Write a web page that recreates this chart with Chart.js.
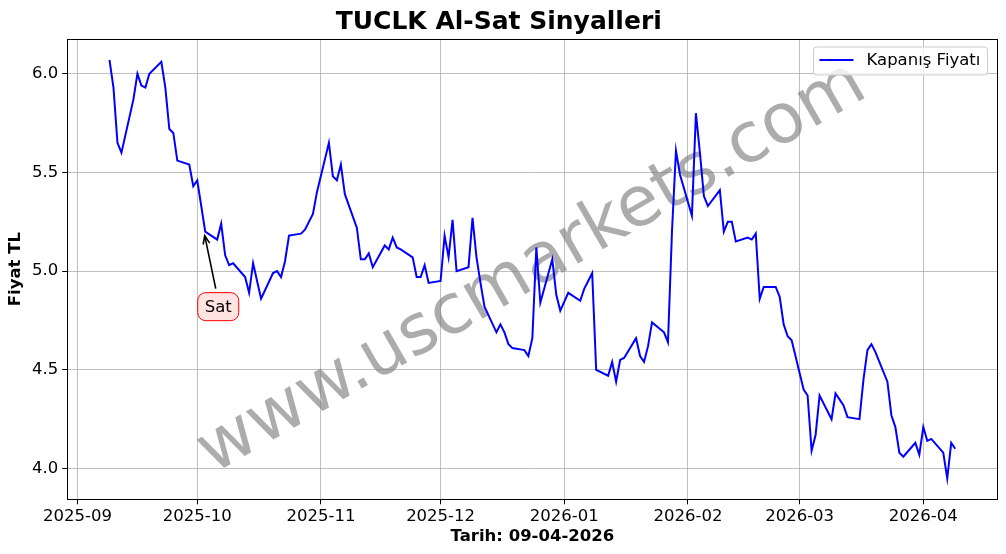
<!DOCTYPE html>
<html>
<head>
<meta charset="utf-8">
<title>TUCLK Al-Sat Sinyalleri</title>
<script src="https://cdn.jsdelivr.net/npm/chart.js@4.4.1/dist/chart.umd.min.js"></script>
<style>
    html, body { margin: 0; padding: 0; background: #fff; }
    #wrap { width: 1006px; height: 554px; }
</style>
</head>
<body>
<div id="wrap"><canvas id="lineChart" width="1006" height="554"></canvas></div>
<script>
// trading days (Sep 9 2025 .. Apr 9 2026)
var dates = [
    '2025-09-09', '2025-09-10', '2025-09-11', '2025-09-12', '2025-09-15', '2025-09-16', '2025-09-17', '2025-09-18',
    '2025-09-19', '2025-09-22', '2025-09-23', '2025-09-24', '2025-09-25', '2025-09-26', '2025-09-29', '2025-09-30',
    '2025-10-01', '2025-10-02', '2025-10-03', '2025-10-06', '2025-10-07', '2025-10-08', '2025-10-09', '2025-10-10',
    '2025-10-13', '2025-10-14', '2025-10-15', '2025-10-16', '2025-10-17', '2025-10-20', '2025-10-21', '2025-10-22',
    '2025-10-23', '2025-10-24', '2025-10-27', '2025-10-28', '2025-10-30', '2025-10-31',
    '2025-11-03', '2025-11-04', '2025-11-05', '2025-11-06', '2025-11-07', '2025-11-10', '2025-11-11', '2025-11-12',
    '2025-11-13', '2025-11-14', '2025-11-17', '2025-11-18', '2025-11-19', '2025-11-20', '2025-11-21', '2025-11-24',
    '2025-11-25', '2025-11-26', '2025-11-27', '2025-11-28',
    '2025-12-01', '2025-12-02', '2025-12-03', '2025-12-04', '2025-12-05', '2025-12-08', '2025-12-09', '2025-12-10',
    '2025-12-11', '2025-12-12', '2025-12-15', '2025-12-16', '2025-12-17', '2025-12-18', '2025-12-19', '2025-12-22',
    '2025-12-23', '2025-12-24', '2025-12-25', '2025-12-26', '2025-12-29', '2025-12-30', '2025-12-31',
    '2026-01-02', '2026-01-05', '2026-01-06', '2026-01-07', '2026-01-08', '2026-01-09', '2026-01-12', '2026-01-13',
    '2026-01-14', '2026-01-15', '2026-01-16', '2026-01-19', '2026-01-20', '2026-01-21', '2026-01-22', '2026-01-23',
    '2026-01-26', '2026-01-27', '2026-01-28', '2026-01-29', '2026-01-30',
    '2026-02-02', '2026-02-03', '2026-02-04', '2026-02-05', '2026-02-06', '2026-02-09', '2026-02-10', '2026-02-11',
    '2026-02-12', '2026-02-13', '2026-02-16', '2026-02-17', '2026-02-18', '2026-02-19', '2026-02-20', '2026-02-23',
    '2026-02-24', '2026-02-25', '2026-02-26', '2026-02-27',
    '2026-03-02', '2026-03-03', '2026-03-04', '2026-03-05', '2026-03-06', '2026-03-09', '2026-03-10', '2026-03-11',
    '2026-03-12', '2026-03-13', '2026-03-16', '2026-03-17', '2026-03-18', '2026-03-19', '2026-03-20', '2026-03-23',
    '2026-03-24', '2026-03-25', '2026-03-26', '2026-03-27', '2026-03-30', '2026-03-31',
    '2026-04-01', '2026-04-02', '2026-04-03', '2026-04-06', '2026-04-07', '2026-04-08', '2026-04-09'
]

// closing prices (TL), same order as dates
var closePrices = [
    6.07, 5.93, 5.65, 5.60, 5.87, 6.00, 5.94, 5.93,
    6.00, 6.06, 5.93, 5.72, 5.70, 5.56, 5.54, 5.43,
    5.46, 5.33, 5.20, 5.16, 5.24, 5.08, 5.03, 5.04,
    4.97, 4.89, 5.04, 4.95, 4.86, 4.99, 5.00, 4.97,
    5.05, 5.18, 5.19, 5.21, 5.29, 5.40,
    5.65, 5.48, 5.46, 5.54, 5.39, 5.22, 5.06, 5.06,
    5.09, 5.02, 5.13, 5.11, 5.17, 5.12, 5.11, 5.07,
    4.97, 4.97, 5.03, 4.94,
    4.95, 5.18, 5.07, 5.26, 5.00, 5.02, 5.27, 5.07,
    4.94, 4.82, 4.69, 4.73, 4.69, 4.63, 4.61, 4.60,
    4.57, 4.66, 5.12, 4.84, 5.06, 4.88, 4.80,
    4.89, 4.85, 4.91, 4.95, 4.99, 4.50, 4.47, 4.54,
    4.44, 4.55, 4.56, 4.66, 4.57, 4.54, 4.62, 4.74,
    4.69, 4.64, 5.20, 5.61, 5.49,
    5.28, 5.80, 5.60, 5.38, 5.33, 5.41, 5.20, 5.25,
    5.25, 5.15, 5.17, 5.16, 5.19, 4.86, 4.92, 4.92,
    4.87, 4.73, 4.67, 4.65,
    4.40, 4.37, 4.09, 4.17, 4.37, 4.25, 4.38, 4.35,
    4.32, 4.26, 4.25, 4.45, 4.60, 4.63, 4.59, 4.44,
    4.27, 4.21, 4.08, 4.06, 4.13, 4.07,
    4.21, 4.14, 4.15, 4.08, 3.95, 4.13, 4.10
]

// sell signal(s)
var signalDates = ['2025-10-03']
var signalLabels = ['Sat']

// axis ticks
var monthTicks = ['2025-09', '2025-10', '2025-11', '2025-12', '2026-01', '2026-02', '2026-03', '2026-04']
var priceTicks = [4.0, 4.5, 5.0, 5.5, 6.0]

var FONT = 'DejaVu Sans'

var points = []
for (var i = 0; i < dates.length; i++) {
    points.push({x: Date.parse(dates[i]), y: closePrices[i]})
}

// matplotlib style 5% margins
var xFirst = points[0].x, xLast = points[points.length - 1].x
var xPad = (xLast - xFirst) * 0.05
var yLo = Math.min.apply(null, closePrices), yHi = Math.max.apply(null, closePrices)
var yPad = (yHi - yLo) * 0.05

var watermarkPlugin = {
    id: 'watermark',
    beforeDatasetsDraw: function (chart) {
        var ctx = chart.ctx, a = chart.chartArea
        ctx.save()
        ctx.translate((a.left + a.right) / 2, (a.top + a.bottom) / 2)
        ctx.rotate(-30 * Math.PI / 180)
        ctx.font = '69.5px "' + FONT + '"'
        ctx.fillStyle = 'rgba(128,128,128,0.65)'
        ctx.textAlign = 'center'
        ctx.textBaseline = 'middle'
        ctx.fillText('www.uscmarkets.com', 0, 0)
        ctx.restore()
    }
}

var framePlugin = {
    id: 'frame',
    afterDatasetsDraw: function (chart) {
        var ctx = chart.ctx, a = chart.chartArea
        ctx.save()
        ctx.strokeStyle = '#000'
        ctx.lineWidth = 1
        ctx.strokeRect(Math.round(a.left) + 0.5, Math.round(a.top) + 0.5,
            Math.round(a.right - a.left), Math.round(a.bottom - a.top))
        ctx.restore()
    }
}

var signalPlugin = {
    id: 'signals',
    afterDatasetsDraw: function (chart) {
        var ctx = chart.ctx
        var xs = chart.scales.x, ys = chart.scales.y
        for (var i = 0; i < signalDates.length; i++) {
            var idx = dates.indexOf(signalDates[i])
            var px = xs.getPixelForValue(Date.parse(signalDates[i]))
            var py = ys.getPixelForValue(closePrices[idx])
            var cx = px + 13, cy = py + 75
            ctx.save()
            ctx.font = '16.5px "' + FONT + '"'
            var tw = ctx.measureText(signalLabels[i]).width
            var bw = tw + 14, bh = 28, r = 8
            var bx = cx - bw / 2, by = cy - bh / 2
            ctx.beginPath()
            ctx.moveTo(bx + r, by)
            ctx.arcTo(bx + bw, by, bx + bw, by + bh, r)
            ctx.arcTo(bx + bw, by + bh, bx, by + bh, r)
            ctx.arcTo(bx, by + bh, bx, by, r)
            ctx.arcTo(bx, by, bx + bw, by, r)
            ctx.closePath()
            ctx.fillStyle = '#ffe4e1'
            ctx.fill()
            ctx.strokeStyle = '#ff0000'
            ctx.lineWidth = 1
            ctx.stroke()
            ctx.fillStyle = '#000'
            ctx.textAlign = 'center'
            ctx.textBaseline = 'middle'
            ctx.fillText(signalLabels[i], cx, cy + 1)

            // arrow from box to the point
            var x0 = px + 10.5, y0 = by - 4, x1 = px - 0.5, y1 = py + 4
            var ang = Math.atan2(y1 - y0, x1 - x0)
            ctx.strokeStyle = '#000'
            ctx.lineWidth = 1.6
            ctx.beginPath()
            ctx.moveTo(x0, y0)
            ctx.lineTo(x1, y1)
            ctx.moveTo(x1 - 9 * Math.cos(ang - 0.38), y1 - 9 * Math.sin(ang - 0.38))
            ctx.lineTo(x1, y1)
            ctx.lineTo(x1 - 9 * Math.cos(ang + 0.38), y1 - 9 * Math.sin(ang + 0.38))
            ctx.stroke()
            ctx.restore()
        }
    }
}

var legendPlugin = {
    id: 'boxLegend',
    afterDraw: function (chart) {
        var ctx = chart.ctx, a = chart.chartArea
        var w = 174, h = 28
        var lx = a.right - 10 - w, ly = a.top + 8, r = 3
        ctx.save()
        ctx.beginPath()
        ctx.moveTo(lx + r, ly)
        ctx.arcTo(lx + w, ly, lx + w, ly + h, r)
        ctx.arcTo(lx + w, ly + h, lx, ly + h, r)
        ctx.arcTo(lx, ly + h, lx, ly, r)
        ctx.arcTo(lx, ly, lx + w, ly, r)
        ctx.closePath()
        ctx.fillStyle = 'rgba(255,255,255,0.8)'
        ctx.fill()
        ctx.strokeStyle = '#cccccc'
        ctx.lineWidth = 1
        ctx.stroke()
        ctx.strokeStyle = '#0000ff'
        ctx.lineWidth = 2
        ctx.beginPath()
        ctx.moveTo(lx + 6, ly + 13)
        ctx.lineTo(lx + 40, ly + 13)
        ctx.stroke()
        ctx.fillStyle = '#000'
        ctx.font = '16.5px "' + FONT + '"'
        ctx.textBaseline = 'middle'
        ctx.fillText(chart.data.datasets[0].label, lx + 53, ly + 14)
        ctx.restore()
    }
}

var lineChart = new Chart(document.getElementById('lineChart').getContext('2d'), {
    type: 'line',
    data: {
        datasets: [{
            label: 'Kapanış Fiyatı',
            data: points,
            borderColor: '#0000ff',
            borderWidth: 2,
            pointRadius: 0,
            tension: 0,
            fill: false
        }]
    },
    options: {
        responsive: false,
        animation: false,
        events: [],
        layout: {padding: {left: 0, right: 8.5, top: 2, bottom: 0}},
        plugins: {
            legend: {display: false},
            tooltip: {enabled: false},
            title: {
                display: true,
                text: 'TUCLK Al-Sat Sinyalleri',
                color: '#000',
                font: {family: FONT, size: 25, weight: 'bold'},
                padding: {top: 5, bottom: 2}
            }
        },
        scales: {
            x: {
                type: 'linear',
                min: xFirst - xPad,
                max: xLast + xPad,
                afterBuildTicks: function (scale) {
                    scale.ticks = monthTicks.map(function (m) { return {value: Date.parse(m + '-01')} })
                },
                afterFit: function (scale) { scale.height = 54.7 },
                ticks: {
                    autoSkip: false,
                    maxRotation: 0,
                    padding: 3,
                    color: '#000',
                    font: {family: FONT, size: 16.5},
                    callback: function (v) { return new Date(v).toISOString().substr(0, 7) }
                },
                grid: {color: '#b0b0b0', lineWidth: 0.8, tickColor: '#000', tickLength: 5, tickWidth: 1},
                border: {color: '#000', width: 1},
                title: {
                    display: true,
                    text: 'Tarih: 09-04-2026',
                    color: '#000',
                    font: {family: FONT, size: 16.5, weight: 'bold'},
                    padding: {top: 0, bottom: 7}
                }
            },
            y: {
                type: 'linear',
                min: yLo - yPad,
                max: yHi + yPad,
                afterBuildTicks: function (scale) {
                    scale.ticks = priceTicks.map(function (v) { return {value: v} })
                },
                afterFit: function (scale) { scale.width = 67.2 },
                ticks: {
                    padding: 4,
                    color: '#000',
                    font: {family: FONT, size: 16.5},
                    callback: function (v) { return v.toFixed(1) }
                },
                grid: {color: '#b0b0b0', lineWidth: 0.8, tickColor: '#000', tickLength: 5, tickWidth: 1},
                border: {color: '#000', width: 1},
                title: {
                    display: true,
                    text: 'Fiyat TL',
                    color: '#000',
                    font: {family: FONT, size: 16.5, weight: 'bold'},
                    padding: {top: 6, bottom: 0}
                }
            }
        }
    },
    plugins: [watermarkPlugin, framePlugin, signalPlugin, legendPlugin]
})
</script>
</body>
</html>
